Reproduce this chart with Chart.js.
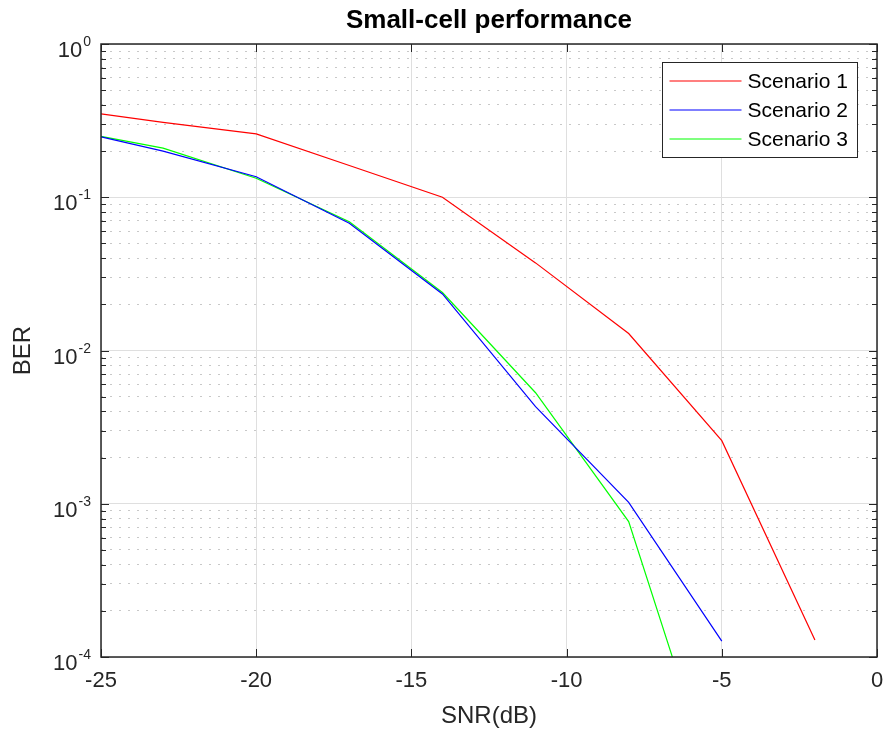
<!DOCTYPE html>
<html>
<head>
<meta charset="utf-8">
<script src="https://cdn.jsdelivr.net/npm/chart.js@4"></script>
<style>
  body { margin:0; background:#fff; overflow:hidden; }
  canvas { display:block; }
</style>
</head>
<body>
<canvas id="chartBer" width="885" height="731"></canvas>
<script>
const SNR = [-25, -23, -20, -17, -14, -11, -8, -5, -2];
const SCENARIO_1 = [0.35, 0.308, 0.259, 0.161, 0.1, 0.0373, 0.0129, 0.00258, 0.000129];
const SCENARIO_2 = [0.248, 0.2, 0.136, 0.0676, 0.0234, 0.0043, 0.00102, 0.000127];
const SCENARIO_3 = [0.25, 0.209, 0.133, 0.0693, 0.0239, 0.0053, 0.000765, 0.00001];
const LABELS = ['Scenario 1', 'Scenario 2', 'Scenario 3'];
const COLORS = ['#ff0000', '#0000ff', '#00ff00'];
const X_TICKS = [-25, -20, -15, -10, -5, 0];
const Y_DECADES = [-4, -3, -2, -1, 0];

const FONT = "'Liberation Sans', Arial, Helvetica, sans-serif";
const isDecade = v => Math.abs(Math.log10(v) - Math.round(Math.log10(v))) < 1e-9;

// 1..9 x 10^n between the decades
const Y_TICK_VALUES = [];
Y_DECADES.forEach(e => {
  for (let m = 1; m <= 9; m++) {
    const v = m * Math.pow(10, e);
    if (v <= 1 + 1e-12) Y_TICK_VALUES.push(Number(v.toPrecision(6)));
  }
});

const toPoints = vals => vals.map((v, i) => ({ x: SNR[i], y: v }));

const matlabAxes = {
  id: 'matlabAxes',
  afterDraw(chart) {
    const { ctx, chartArea: a, scales: { x, y } } = chart;
    ctx.save();

    // inward ticks on all four sides
    ctx.strokeStyle = '#262626';
    ctx.lineWidth = 1;
    ctx.beginPath();
    X_TICKS.forEach(v => {
      const px = Math.round(x.getPixelForValue(v)) + 0.5;
      ctx.moveTo(px, a.bottom); ctx.lineTo(px, a.bottom - 8);
      ctx.moveTo(px, a.top); ctx.lineTo(px, a.top + 8);
    });
    Y_TICK_VALUES.forEach(v => {
      const py = Math.round(y.getPixelForValue(v)) + 0.5;
      const len = isDecade(v) ? 8 : 5;
      ctx.moveTo(a.left, py); ctx.lineTo(a.left + len, py);
      ctx.moveTo(a.right, py); ctx.lineTo(a.right - len, py);
    });
    ctx.stroke();

    // box
    ctx.lineWidth = 1.5;
    ctx.strokeRect(a.left, a.top, a.right - a.left, a.bottom - a.top);

    // y tick labels 10^n
    ctx.fillStyle = '#262626';
    ctx.textBaseline = 'alphabetic';
    Y_DECADES.forEach(e => {
      const py = y.getPixelForValue(Math.pow(10, e));
      const exp = String(e);
      ctx.font = '14px ' + FONT;
      const ew = ctx.measureText(exp).width;
      ctx.textAlign = 'left';
      const ex = a.left - 10 - ew;
      ctx.fillText(exp, ex, py + 2);
      ctx.font = '22px ' + FONT;
      ctx.textAlign = 'right';
      ctx.fillText('10', ex - 1, py + 13);
    });

    // axis titles
    ctx.fillStyle = '#262626';
    ctx.font = '24px ' + FONT;
    ctx.textAlign = 'center';
    ctx.textBaseline = 'middle';
    ctx.fillText('SNR(dB)', (a.left + a.right) / 2, 716);
    ctx.save();
    ctx.translate(23, (a.top + a.bottom) / 2);
    ctx.rotate(-Math.PI / 2);
    ctx.fillText('BER', 0, 0);
    ctx.restore();

    // title
    ctx.fillStyle = '#000';
    ctx.font = 'bold 26px ' + FONT;
    ctx.fillText('Small-cell performance', (a.left + a.right) / 2, 21);

    // legend
    const bx = a.right - 214.5, by = a.top + 18.5, bw = 195, bh = 95;
    ctx.fillStyle = '#fff';
    ctx.fillRect(bx, by, bw, bh);
    ctx.strokeStyle = '#262626';
    ctx.lineWidth = 1;
    ctx.strokeRect(bx, by, bw, bh);
    chart.data.datasets.forEach((ds, i) => {
      const ry = by + 18.5 + i * 29;
      ctx.strokeStyle = ds.borderColor;
      ctx.lineWidth = 1.2;
      ctx.beginPath();
      ctx.moveTo(bx + 7, ry); ctx.lineTo(bx + 79, ry);
      ctx.stroke();
      ctx.fillStyle = '#000';
      ctx.font = '21px ' + FONT;
      ctx.textAlign = 'left';
      ctx.textBaseline = 'middle';
      ctx.fillText(ds.label, bx + 85, ry + 1);
    });

    ctx.restore();
  }
};

new Chart(document.getElementById('chartBer').getContext('2d'), {
  type: 'line',
  data: {
    datasets: [SCENARIO_1, SCENARIO_2, SCENARIO_3].map((vals, i) => ({
      label: LABELS[i],
      data: toPoints(vals),
      borderColor: COLORS[i],
      backgroundColor: COLORS[i],
      borderWidth: 1.2,
      pointRadius: 0,
      tension: 0,
      fill: false
    }))
  },
  options: {
    responsive: false,
    animation: false,
    devicePixelRatio: 1,
    layout: { padding: { top: 44, right: 8, left: 0, bottom: 0 } },
    plugins: { legend: { display: false }, title: { display: false }, tooltip: { enabled: false } },
    scales: {
      x: {
        type: 'linear',
        min: -25, max: 0,
        afterFit: s => { s.height = 74; s.paddingLeft = 0; s.paddingRight = 0; },
        afterBuildTicks: s => { s.ticks = X_TICKS.map(v => ({ value: v })); },
        ticks: { color: '#262626', font: { family: FONT, size: 22 }, padding: 11, maxRotation: 0 },
        grid: { color: '#dfdfdf', drawTicks: false },
        border: { display: false }
      },
      y: {
        type: 'logarithmic',
        min: 1e-4, max: 1,
        afterFit: s => { s.width = 101; s.paddingTop = 0; s.paddingBottom = 0; },
        afterBuildTicks: s => { s.ticks = Y_TICK_VALUES.map(v => ({ value: v })); },
        ticks: { display: false, autoSkip: false },
        grid: {
          drawTicks: false,
          color: c => (c.tick && isDecade(c.tick.value)) ? '#dfdfdf' : '#c8c8c8'
        },
        border: {
          display: false,
          dash: c => (c.tick && isDecade(c.tick.value)) ? [] : [2, 7]
        }
      }
    }
  },
  plugins: [matlabAxes]
});
</script>
</body>
</html>
